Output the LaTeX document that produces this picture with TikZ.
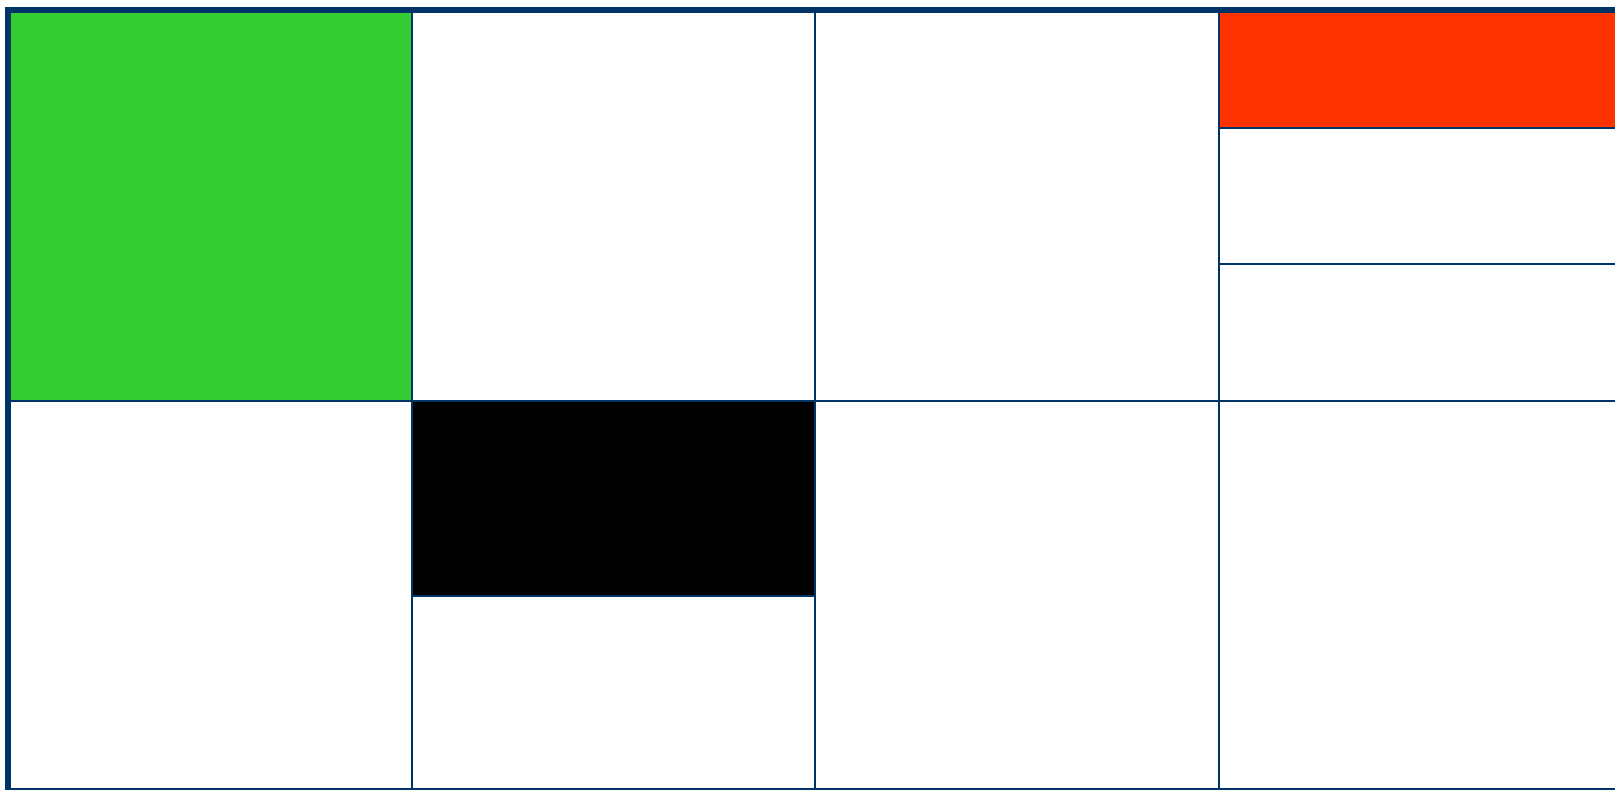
\documentclass[tikz,border=0pt]{standalone}
\definecolor{navy}{HTML}{003366}
\definecolor{cellgreen}{HTML}{33CC33}
\definecolor{cellred}{HTML}{FF3300}
\tikzset{gridline/.style={draw=navy,line width=2pt},
frameline/.style={draw=navy,line width=6pt}}
\begin{document}
\begin{tikzpicture}[x=1pt,y=-1pt]
\useasboundingbox (0,0) rectangle (1615,790);
\fill[white] (0,0) rectangle (1615,790);
% filled cells
\fill[cellgreen] (8,10) rectangle (412,401);
\fill[cellred] (1219,10) rectangle (1615,128);
\fill[black] (412,401) rectangle (815,596);
% grid lines
\draw[gridline] (412,10) -- (412,789);
\draw[gridline] (815,10) -- (815,789);
\draw[gridline] (1219,10) -- (1219,789);
\draw[gridline] (8,401) -- (1615,401);
\draw[gridline] (1219,128) -- (1615,128);
\draw[gridline] (1219,264) -- (1615,264);
\draw[gridline] (412,596) -- (815,596);
\draw[gridline] (8,789) -- (1615,789);
% outer frame
\draw[frameline] (8,790) -- (8,10) -- (1615,10);
\end{tikzpicture}
\end{document}
